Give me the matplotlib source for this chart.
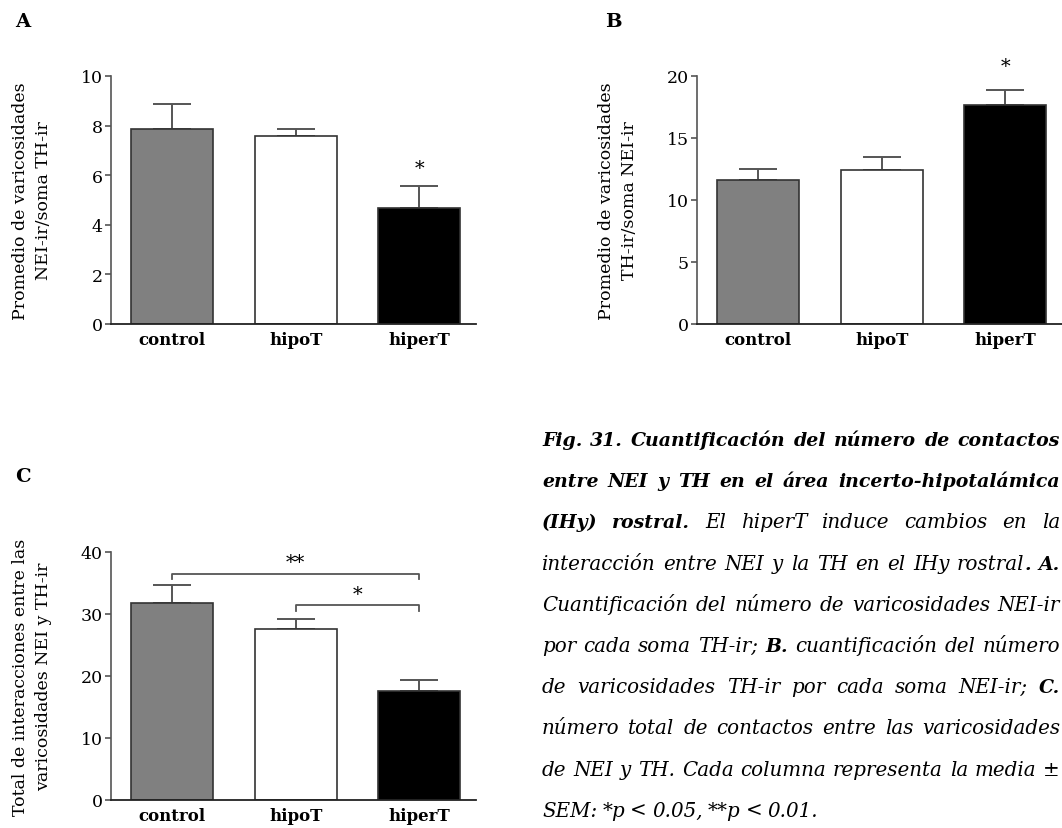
import numpy as np
import matplotlib
matplotlib.use("Agg")
import matplotlib.pyplot as plt

plt.rcParams['font.family'] = 'DejaVu Serif'

# data (mean and upper SEM)
groups = ['control', 'hipoT', 'hiperT']
fills = ['#808080', '#ffffff', '#000000']

a_mean = [7.88, 7.57, 4.67]
a_sem = [0.98, 0.30, 0.90]
a_star_y = 6.3

b_mean = [11.65, 12.38, 17.64]
b_sem = [0.86, 1.07, 1.21]
b_star_y = 20.8

c_mean = [31.73, 27.65, 17.66]
c_sem = [2.90, 1.55, 1.67]
# brackets: (from, to, height, label)
c_brackets = [(0, 2, 36.5, '**'), (1, 2, 31.4, '*')]

cap_lines = [
    "|Fig. 31. Cuantificación del número de contactos|",
    "|entre NEI y TH en el área incerto-hipotalámica|",
    "|(IHy) rostral.| El hiperT induce cambios en la",
    "interacción entre NEI y la TH en el IHy rostral|. A.|",
    "Cuantificación del número de varicosidades NEI-ir",
    "por cada soma TH-ir; |B.| cuantificación del número",
    "de varicosidades TH-ir por cada soma NEI-ir; |C.|",
    "número total de contactos entre las varicosidades",
    "de NEI y TH. Cada columna representa la media ±",
    "SEM: *p < 0.05, **p < 0.01.",
]

W, H = 1062, 829
fig = plt.figure(figsize=(W / 100, H / 100), dpi=100)
fs = 12.5


def px_axes(x0, y0, x1, y1):
    return fig.add_axes([x0 / W, 1 - y1 / H, (x1 - x0) / W, (y1 - y0) / H])


def bar_panel(ax, mean, sem, ymax, step, ylabel):
    x = np.arange(len(groups))
    ax.errorbar(x, mean, yerr=[np.zeros(len(sem)), sem], fmt='none', ecolor='#555555',
                elinewidth=1.4, capsize=14, capthick=1.4, zorder=1)
    ax.bar(x, mean, width=0.667, color=fills, edgecolor='#333333', linewidth=1.2, zorder=2)
    ax.set_xlim(-0.496, 2.46)
    ax.set_ylim(0, ymax)
    ax.set_yticks(np.arange(0, ymax + 1, step))
    ax.set_xticks(x)
    ax.set_xticklabels(groups, fontweight='bold', fontsize=12)
    ax.tick_params(axis='x', length=0, pad=5)
    ax.tick_params(axis='y', length=4, width=1.2, color='#555555', labelsize=fs, pad=2)
    for s in ['top', 'right']:
        ax.spines[s].set_visible(False)
    ax.spines['left'].set_color('#555555')
    ax.spines['left'].set_linewidth(1.2)
    ax.spines['bottom'].set_color('#222222')
    ax.spines['bottom'].set_linewidth(1.3)
    ax.text(-0.216, 0.5, ylabel, transform=ax.transAxes, rotation=90, ha='center',
            va='center', fontsize=fs, linespacing=1.45)


axA = px_axes(111, 77, 476, 325)
bar_panel(axA, a_mean, a_sem, 10, 2, "Promedio de varicosidades\nNEI-ir/soma TH-ir")
axA.text(2, a_star_y, '*', ha='center', va='center', fontsize=14, clip_on=False)

axB = px_axes(697, 77, 1062, 325)
bar_panel(axB, b_mean, b_sem, 20, 5, "Promedio de varicosidades\nTH-ir/soma NEI-ir")
axB.text(2, b_star_y, '*', ha='center', va='center', fontsize=14, clip_on=False)

axC = px_axes(111, 553, 476, 801)
bar_panel(axC, c_mean, c_sem, 40, 10,
          "Total de interacciones entre las\nvaricosidades NEI y TH-ir")
for i, j, h, lab in c_brackets:
    axC.plot([i, i, j, j], [h - 0.9, h, h, h - 0.9], color='#555555', lw=1.3, clip_on=False)
    axC.text((i + j) / 2, h + 1.9, lab, ha='center', va='center', fontsize=14, clip_on=False)

# panel letters
fig.text(15 / W, 1 - 27 / H, 'A', fontsize=14, fontweight='bold', va='baseline')
fig.text(605 / W, 1 - 27 / H, 'B', fontsize=14, fontweight='bold', va='baseline')
fig.text(15 / W, 1 - 482 / H, 'C', fontsize=14, fontweight='bold', va='baseline')


# caption, justified word by word
def parse(line):
    words, cur, buf, bold = [], [], '', False
    for ch in line:
        if ch == '|':
            if buf:
                cur.append((buf, bold))
                buf = ''
            bold = not bold
        elif ch == ' ':
            if buf:
                cur.append((buf, bold))
                buf = ''
            if cur:
                words.append(cur)
                cur = []
        else:
            buf += ch
    if buf:
        cur.append((buf, bold))
    if cur:
        words.append(cur)
    return words


cap_fs = 14.3
bold_fs = 13.6
left, right = 542, 1060
renderer = fig.canvas.get_renderer()
t1 = fig.text(0, 0, 'a a', fontsize=cap_fs, style='italic')
t2 = fig.text(0, 0, 'aa', fontsize=cap_fs, style='italic')
space = t1.get_window_extent(renderer).width - t2.get_window_extent(renderer).width
t1.remove()
t2.remove()

for k, line in enumerate(cap_lines):
    words = parse(line)
    y = 1 - (446 + 41.2 * k) / H
    arts = []
    for w in words:
        pieces = []
        for txt, b in w:
            t = fig.text(0, y, txt, fontsize=bold_fs if b else cap_fs, style='italic',
                         fontweight='bold' if b else 'normal', va='baseline', ha='left')
            pieces.append((t, t.get_window_extent(renderer).width))
        arts.append(pieces)
    widths = [sum(p[1] for p in pieces) for pieces in arts]
    if k < len(cap_lines) - 1:
        gap = (right - left - sum(widths)) / (len(words) - 1)
    else:
        gap = space * 0.8
    x = left
    for pieces, wd in zip(arts, widths):
        xx = x
        for t, pw in pieces:
            t.set_x(xx / W)
            xx += pw
        x += wd + gap

fig.savefig('out.png', dpi=100)
